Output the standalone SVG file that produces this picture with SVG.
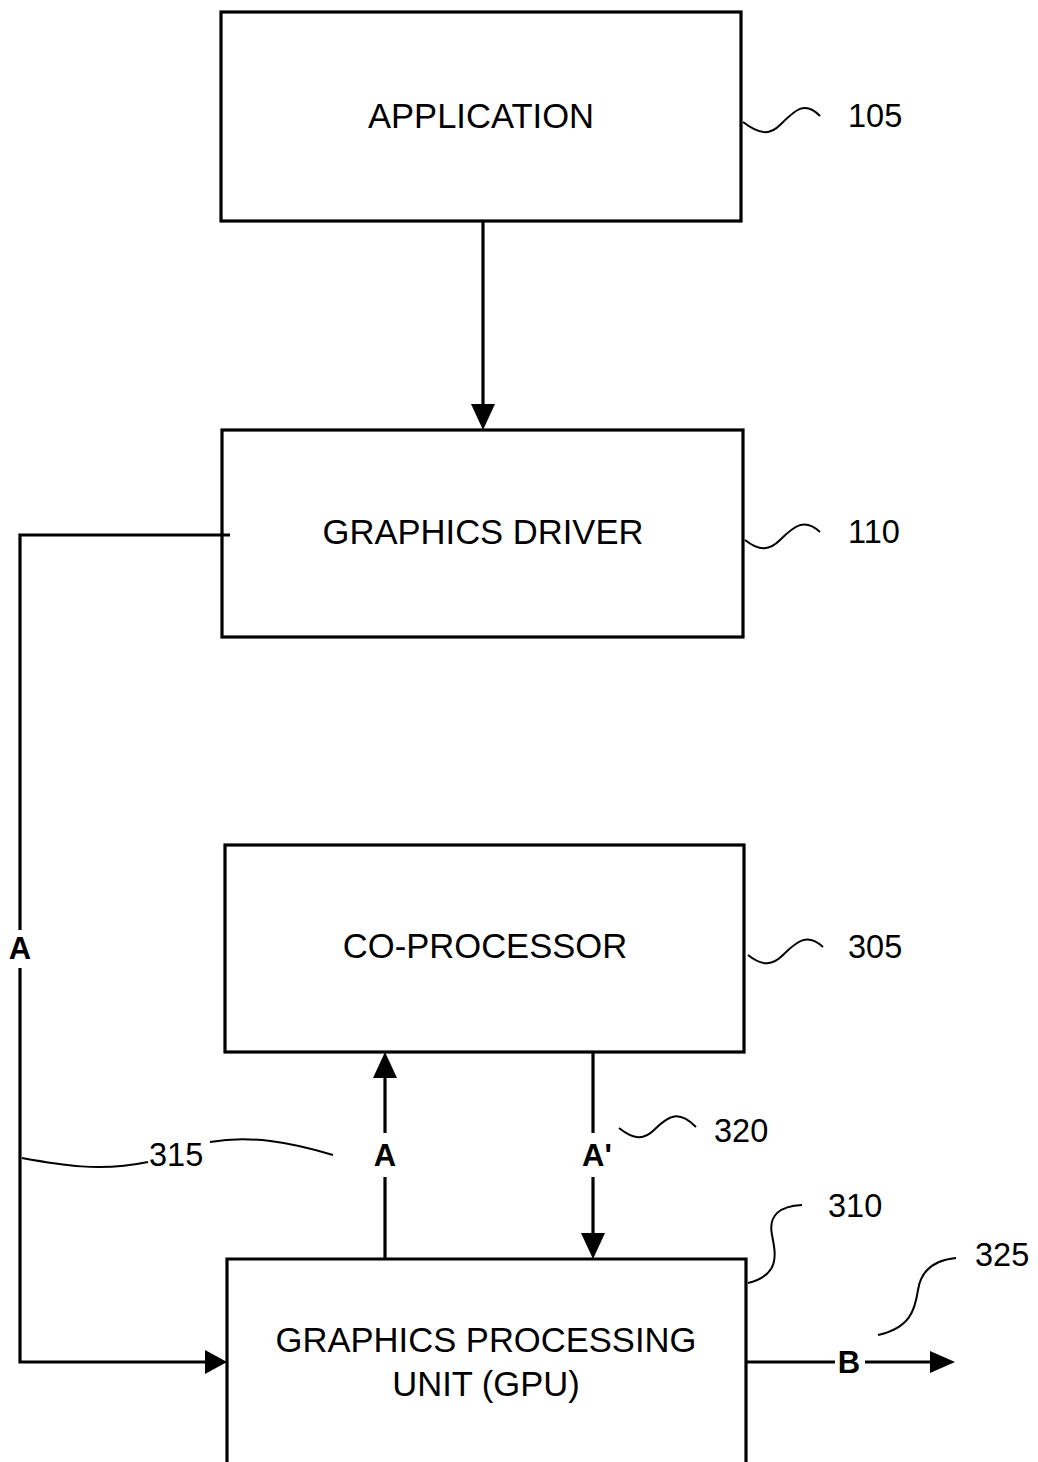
<svg xmlns="http://www.w3.org/2000/svg" width="1038" height="1462" viewBox="0 0 1038 1462">
<defs>
<style>
.box{fill:#fff;stroke:#000;stroke-width:3.2}
.t{font-family:"Liberation Sans",Arial,sans-serif;font-size:34.6px;text-anchor:middle;fill:#000}
.n{font-family:"Liberation Sans",Arial,sans-serif;font-size:32.5px;fill:#000}
.b{font-family:"Liberation Sans",Arial,sans-serif;font-size:31px;font-weight:bold;text-anchor:middle;fill:#000}
.ln{fill:none;stroke:#000;stroke-width:3.2}
.sq{fill:none;stroke:#000;stroke-width:2}
</style>
</defs>
<rect width="1038" height="1462" fill="#fff"/>
<g id="application"><rect class="box" x="221" y="12" width="520" height="209"/><text class="t" x="481" y="128">APPLICATION</text></g>
<g id="driver"><rect class="box" x="222" y="430" width="521" height="207"/><text class="t" x="483" y="544">GRAPHICS DRIVER</text></g>
<g id="coprocessor"><rect class="box" x="225" y="845" width="519" height="207"/><text class="t" x="485" y="958">CO-PROCESSOR</text></g>
<g id="gpu"><path class="ln" d="M227,1462 L227,1259 L746,1259 L746,1462"/><text class="t" x="486" y="1352">GRAPHICS PROCESSING</text><text class="t" x="486" y="1396">UNIT (GPU)</text></g>
<g id="connectors">
<line class="ln" x1="483" y1="221" x2="483" y2="416" />
<path d="M471,404 L495,404 L483,430 Z" fill="#000"/>
<path class="ln" d="M230,535 L20,535 L20,930"/>
<path class="ln" d="M20,968 L20,1362 L212,1362"/>
<path d="M205,1350 L227,1362 L205,1374 Z" fill="#000"/>
<text class="b" x="20" y="959">A</text>
<line class="ln" x1="385" y1="1259" x2="385" y2="1177"/>
<line class="ln" x1="385" y1="1133" x2="385" y2="1070"/>
<path d="M373,1078 L397,1078 L385,1052 Z" fill="#000"/>
<text class="b" x="385" y="1166">A</text>
<line class="ln" x1="593" y1="1052" x2="593" y2="1133"/>
<line class="ln" x1="593" y1="1177" x2="593" y2="1240"/>
<path d="M581,1233 L605,1233 L593,1259 Z" fill="#000"/>
<text class="b" x="597" y="1166">A'</text>
<line class="ln" x1="746" y1="1362" x2="835" y2="1362"/>
<line class="ln" x1="865" y1="1362" x2="935" y2="1362"/>
<path d="M930,1351 L955,1362 L930,1373 Z" fill="#000"/>
<text class="b" x="849" y="1373">B</text>
</g>
<g id="leaders">
<path class="sq" d="M743,122 C760,135 770,135 780,125 C795,110 805,100 820,116"/>
<text class="n" x="848" y="127">105</text>
<path class="sq" d="M745,540 C760,552 770,550 780,540 C795,525 805,518 820,532"/>
<text class="n" x="848" y="543">110</text>
<path class="sq" d="M748,955 C763,967 773,965 783,955 C798,940 808,933 823,947"/>
<text class="n" x="848" y="958">305</text>
<path class="sq" d="M619,1128 C634,1140 644,1140 654,1130 C669,1115 679,1110 696,1127"/>
<text class="n" x="714" y="1142">320</text>
<path class="sq" d="M22,1158 C60,1165 100,1172 148,1162"/>
<path class="sq" d="M210,1142 C250,1135 290,1142 333,1155"/>
<text class="n" x="149" y="1166">315</text>
<path class="sq" d="M748,1283 C780,1275 776,1255 772,1235 C768,1215 780,1206 802,1205"/>
<text class="n" x="828" y="1217">310</text>
<path class="sq" d="M878,1335 C910,1328 915,1310 918,1290 C921,1270 935,1260 956,1258"/>
<text class="n" x="975" y="1266">325</text>
</g>
</svg>
